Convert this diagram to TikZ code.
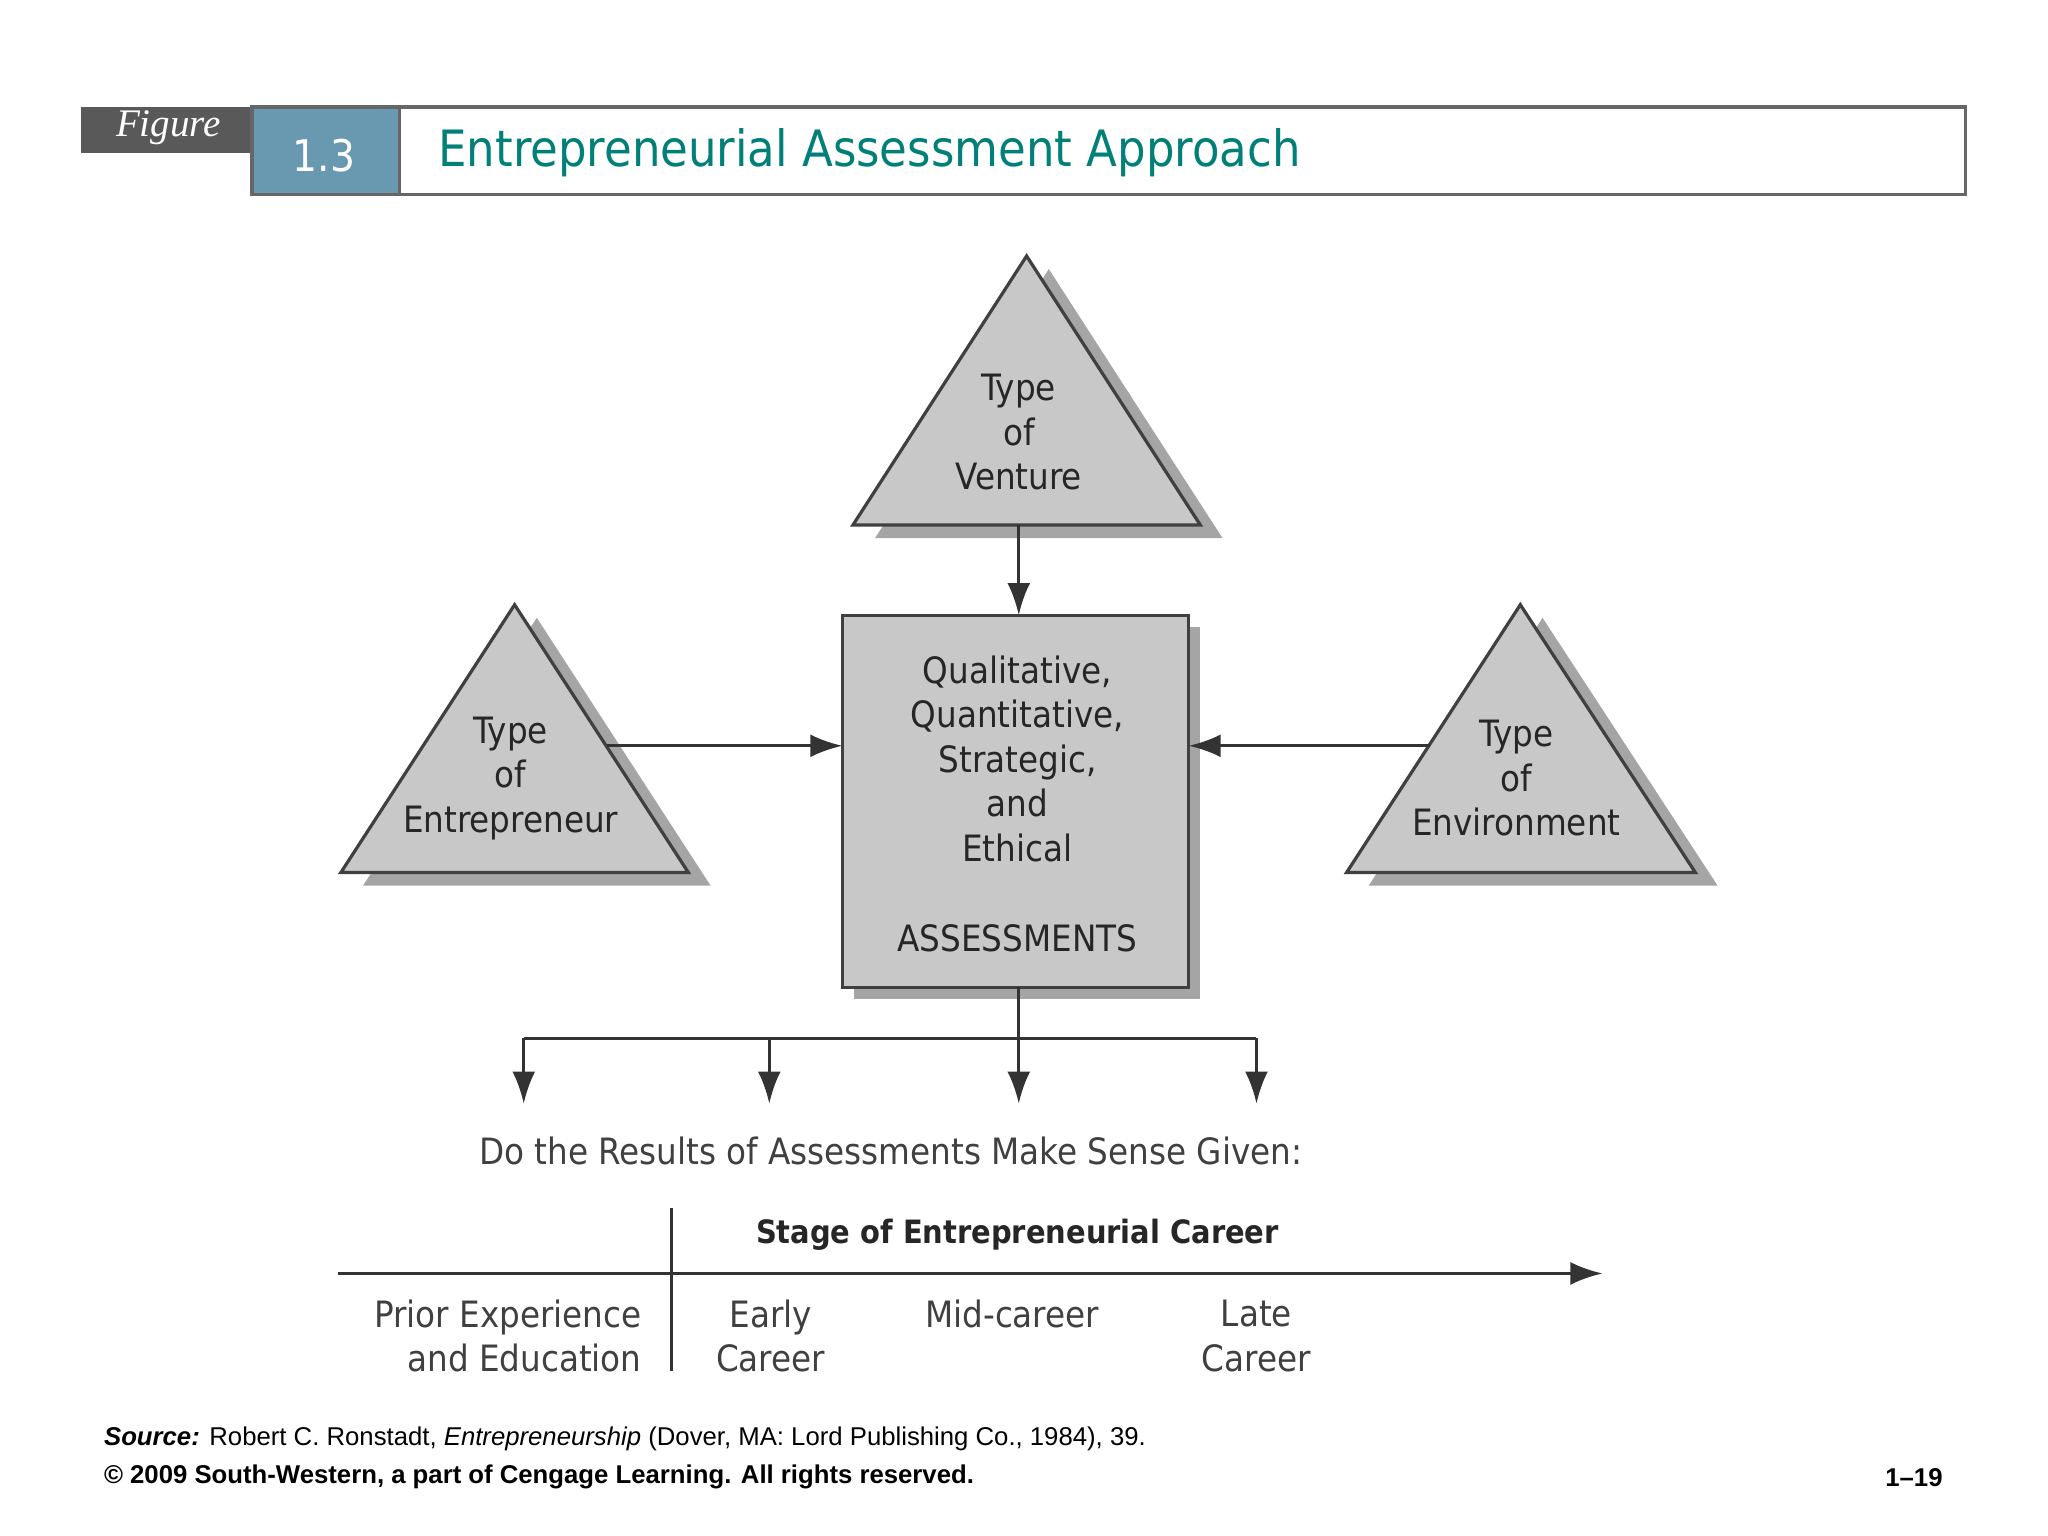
\documentclass[tikz,border=0pt]{standalone}
\usepackage{fontspec}
\setmainfont{Liberation Sans}
\newfontfamily\dfont{DejaVu Sans Condensed}
\newfontfamily\ffont{Liberation Serif}
\usetikzlibrary{arrows.meta}
\definecolor{tri}{RGB}{200,200,200}
\definecolor{shd}{RGB}{165,165,165}
\definecolor{teal1}{RGB}{0,128,120}
\definecolor{blue1}{RGB}{104,153,176}
\begin{document}
\begin{tikzpicture}[x=0.01cm,y=-0.01cm,
  shp/.style={draw=black!75,line width=0.7pt,fill=tri},
  sh/.style={fill=shd,draw=none},
  lbl/.style={font=\dfont\fontsize{7.9}{9.7}\selectfont,align=center,text=black!85,inner sep=0},
  con/.style={line width=0.7pt,draw=black!80,-{Latex[length=7pt,width=5pt]}},
  ln/.style={line width=0.7pt,draw=black!80}]
\useasboundingbox (0,0) rectangle (1568,1176);
% header
\fill[black!65] (62,82) rectangle (193,117);
\node[text=white,font=\ffont\itshape\fontsize{8.5}{10}\selectfont] (fig) at (129,98) {Figure};
\draw[black!60,fill=white,line width=0.7pt] (306,82) rectangle (1505,149);
\fill[blue1] (193,82) rectangle (306,149);
\draw[black!60,line width=0.7pt] (193,82) rectangle (306,149);
\node[text=white,font=\dfont\fontsize{9.5}{12}\selectfont] (num) at (248,119) {1.3};
\node[anchor=west,text=teal1,font=\dfont\fontsize{10.9}{13}\selectfont,inner sep=0] (title) at (335,117) {Entrepreneurial Assessment Approach};
% shadows
\fill[sh] (803,206) -- (936,412) -- (670,412) -- cycle;
\fill[sh] (411,473) -- (544,678) -- (278,678) -- cycle;
\fill[sh] (1181,473) -- (1315,678) -- (1048,678) -- cycle;
\fill[sh] (654,480) rectangle (919,765);
% shapes
\draw[shp] (786,196) -- (919,402) -- (653,402) -- cycle;
\draw[shp] (394,463) -- (527,668) -- (261,668) -- cycle;
\draw[shp] (1164,463) -- (1298,668) -- (1031,668) -- cycle;
\draw[shp] (645,471) rectangle (910,756);
\coordinate (vb) at (780,402);
\coordinate (bt) at (780,471);
\coordinate (eo) at (465,571);
\coordinate (bl) at (645,571);
\coordinate (ro) at (1095,571);
\coordinate (br) at (910,571);
\coordinate (bb) at (780,756);
\node[lbl] (tv) at (780,331) {Type\\of\\Venture};
\node[lbl] (te) at (391,596) {Type\\of\\Entrepreneur};
\node[lbl] (tn) at (1161,596) {Type\\of\\Environment};
\node[lbl] (q) at (779,581) {Qualitative,\\Quantitative,\\Strategic,\\and\\Ethical};
\node[lbl] (as) at (779,718) {ASSESSMENTS};
\draw[con] (vb) -- (bt);
\draw[con] (eo) -- (bl);
\draw[con] (ro) -- (br);
% bottom distribution
\coordinate (j) at (780,795);
\coordinate (j1) at (401,795);
\coordinate (j2) at (589,795);
\coordinate (j4) at (962,795);
\coordinate (a1) at (401,845);
\coordinate (a2) at (589,845);
\coordinate (a3) at (780,845);
\coordinate (a4) at (962,845);
\draw[ln] (bb) -- (j);
\draw[ln] (j1) -- (j4);
\draw[con] (j1) -- (a1);
\draw[con] (j2) -- (a2);
\draw[con] (j) -- (a3);
\draw[con] (j4) -- (a4);
\node[lbl,text=black!75] (q2) at (682,881) {Do the Results of Assessments Make Sense Given:};
% timeline
\coordinate (v1) at (514,925);
\coordinate (v2) at (514,1050);
\coordinate (h1) at (259,975);
\coordinate (h2) at (1227,975);
\draw[ln] (v1) -- (v2);
\draw[con] (h1) -- (h2);
\node[lbl,font=\dfont\bfseries\fontsize{7}{9}\selectfont] (st) at (779,945) {Stage of Entrepreneurial Career};
\node[lbl,align=right,anchor=east,text=black!75] (pe) at (492,1023) {Prior Experience\\and Education};
\node[lbl,text=black!75] (ec) at (590,1023) {Early\\Career};
\node[lbl,text=black!75] (mc) at (775,1006) {Mid-career};
\node[lbl,text=black!75] (lc) at (962,1023) {Late\\Career};
% footer
\node[anchor=west,font=\fontsize{5.6}{7}\selectfont,inner sep=0] (src) at (79,1102) {\textbf{\textit{Source:}} Robert C. Ronstadt, \textit{Entrepreneurship} (Dover, MA: Lord Publishing Co., 1984), 39.};
\node[anchor=west,font=\bfseries\fontsize{5.6}{7}\selectfont,inner sep=0] (cp) at (79,1131) {© 2009 South-Western, a part of Cengage Learning. All rights reserved.};
\node[anchor=east,font=\bfseries\fontsize{5.6}{7}\selectfont,inner sep=0] (pg) at (1488,1131) {1–19};
\end{tikzpicture}
\end{document}
